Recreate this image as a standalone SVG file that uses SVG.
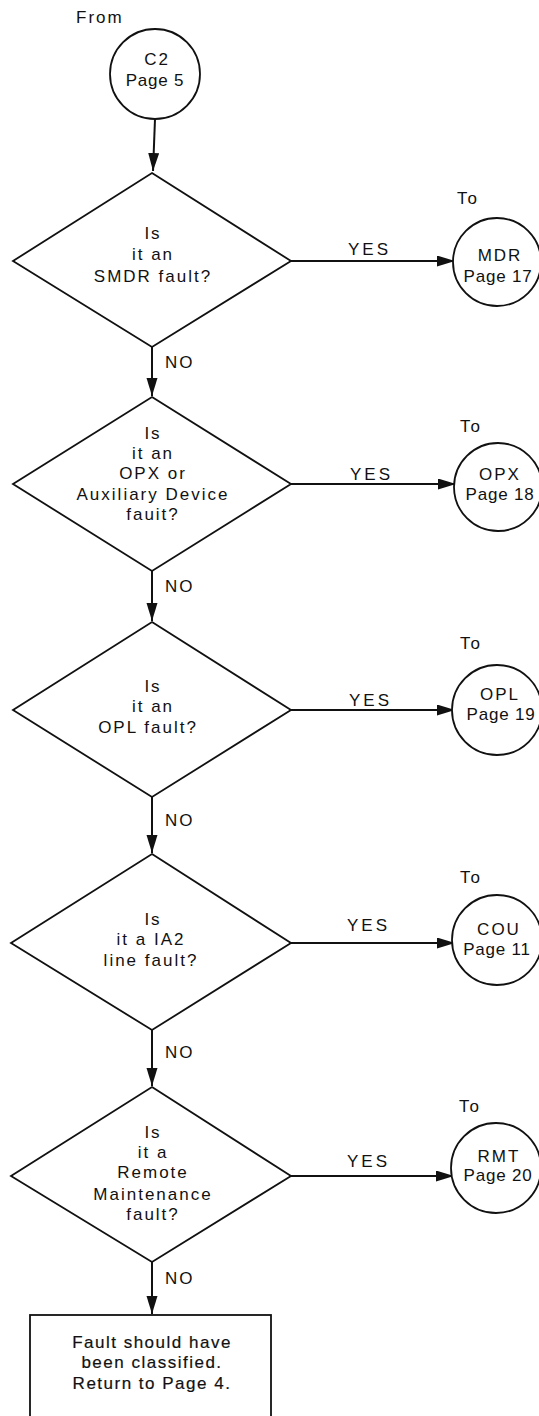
<svg xmlns="http://www.w3.org/2000/svg" width="539" height="1416" viewBox="0 0 539 1416">
<defs>
<style>
.shape{fill:#fff;stroke:#111;stroke-width:1.8}
.conn{fill:none;stroke:#111;stroke-width:2;marker-end:url(#ah)}
text{font-family:"Liberation Sans",Arial,Helvetica,sans-serif;font-size:17px;fill:#111}
.c{text-anchor:middle}
.d{text-anchor:middle;letter-spacing:2px}
.code{text-anchor:middle;letter-spacing:2px}
.pg{text-anchor:middle;letter-spacing:0.8px}
.lbl{letter-spacing:2px}
.yes{letter-spacing:3px}
.box{text-anchor:middle;letter-spacing:1.5px;stroke:#111;stroke-width:0.2}
</style>
<marker id="ah" markerUnits="userSpaceOnUse" markerWidth="20" markerHeight="12" refX="18" refY="5.5" orient="auto">
<path d="M0,0 L18,5.5 L0,11 z" fill="#111"/>
</marker>
</defs>
<rect width="539" height="1416" fill="#fff"/>

<g id="connectors">
<path class="conn" d="M155,119 L153,171"/>
<path class="conn" d="M291,261 L455,261"/>
<path class="conn" d="M152,347 L152,396"/>
<path class="conn" d="M291,484 L456,484"/>
<path class="conn" d="M152,571 L152,621"/>
<path class="conn" d="M291,710 L455,710"/>
<path class="conn" d="M152,797 L152,853"/>
<path class="conn" d="M291,943 L455,943"/>
<path class="conn" d="M152,1030 L152,1086"/>
<path class="conn" d="M291,1176 L454,1176"/>
<path class="conn" d="M152,1262 L152,1314"/>
<text class="yes" x="348" y="255">YES</text>
<text class="yes" x="350" y="480">YES</text>
<text class="yes" x="349" y="706">YES</text>
<text class="yes" x="347" y="931">YES</text>
<text class="yes" x="347" y="1167">YES</text>
<text class="lbl" x="165" y="368">NO</text>
<text class="lbl" x="165" y="592">NO</text>
<text class="lbl" x="165" y="826">NO</text>
<text class="lbl" x="165" y="1058">NO</text>
<text class="lbl" x="165" y="1284">NO</text>
</g>

<g id="start">
<text class="lbl" x="76" y="23">From</text>
<circle class="shape" cx="155" cy="74" r="45"/>
<text class="code" x="157" y="65">C2</text>
<text class="pg" x="155" y="86">Page 5</text>
</g>

<g id="q-smdr">
<polygon class="shape" points="152,173 291,261 152,347 13,261"/>
<text class="d" x="153" y="239">Is</text>
<text class="d" x="153" y="260">it an</text>
<text class="d" x="153" y="282">SMDR fault?</text>
</g>

<g id="to-mdr">
<text class="lbl" x="457" y="204">To</text>
<circle class="shape" cx="497" cy="262" r="44"/>
<text class="code" x="500" y="261">MDR</text>
<text class="pg" x="498" y="282">Page 17</text>
</g>

<g id="q-opx">
<polygon class="shape" points="152,397 291,484 152,571 13,484"/>
<text class="d" x="153" y="439">Is</text>
<text class="d" x="153" y="459">it an</text>
<text class="d" x="153" y="479">OPX or</text>
<text class="d" x="153" y="500">Auxiliary Device</text>
<text class="d" x="153" y="520">fauit?</text>
</g>

<g id="to-opx">
<text class="lbl" x="460" y="432">To</text>
<circle class="shape" cx="498" cy="487" r="44"/>
<text class="code" x="500" y="480">OPX</text>
<text class="pg" x="500" y="500">Page 18</text>
</g>

<g id="q-opl">
<polygon class="shape" points="152,622 291,710 152,797 13,710"/>
<text class="d" x="153" y="692">Is</text>
<text class="d" x="153" y="712">it an</text>
<text class="d" x="148" y="733">OPL fault?</text>
</g>

<g id="to-opl">
<text class="lbl" x="460" y="649">To</text>
<circle class="shape" cx="497" cy="710" r="45"/>
<text class="code" x="500" y="700">OPL</text>
<text class="pg" x="501" y="720">Page 19</text>
</g>

<g id="q-ia2">
<polygon class="shape" points="152,854 291,943 152,1030 11,943"/>
<text class="d" x="153" y="925">Is</text>
<text class="d" x="151" y="945">it a IA2</text>
<text class="d" x="151" y="966">line fault?</text>
</g>

<g id="to-cou">
<text class="lbl" x="460" y="883">To</text>
<circle class="shape" cx="497" cy="940" r="45"/>
<text class="code" x="499" y="935">COU</text>
<text class="pg" x="497" y="955">Page 11</text>
</g>

<g id="q-remote">
<polygon class="shape" points="152,1087 291,1176 152,1262 11,1176"/>
<text class="d" x="153" y="1138">Is</text>
<text class="d" x="153" y="1158">it a</text>
<text class="d" x="153" y="1178">Remote</text>
<text class="d" x="153" y="1200">Maintenance</text>
<text class="d" x="153" y="1220">fault?</text>
</g>

<g id="to-rmt">
<text class="lbl" x="459" y="1112">To</text>
<circle class="shape" cx="496" cy="1168" r="45"/>
<text class="code" x="499" y="1162">RMT</text>
<text class="pg" x="498" y="1181">Page 20</text>
</g>

<g id="end-box">
<rect class="shape" x="30" y="1315" width="241" height="125"/>
<text class="box" x="152" y="1348">Fault should have</text>
<text class="box" x="152" y="1368">been classified.</text>
<text class="box" x="152" y="1389">Return to Page 4.</text>
</g>
</svg>
